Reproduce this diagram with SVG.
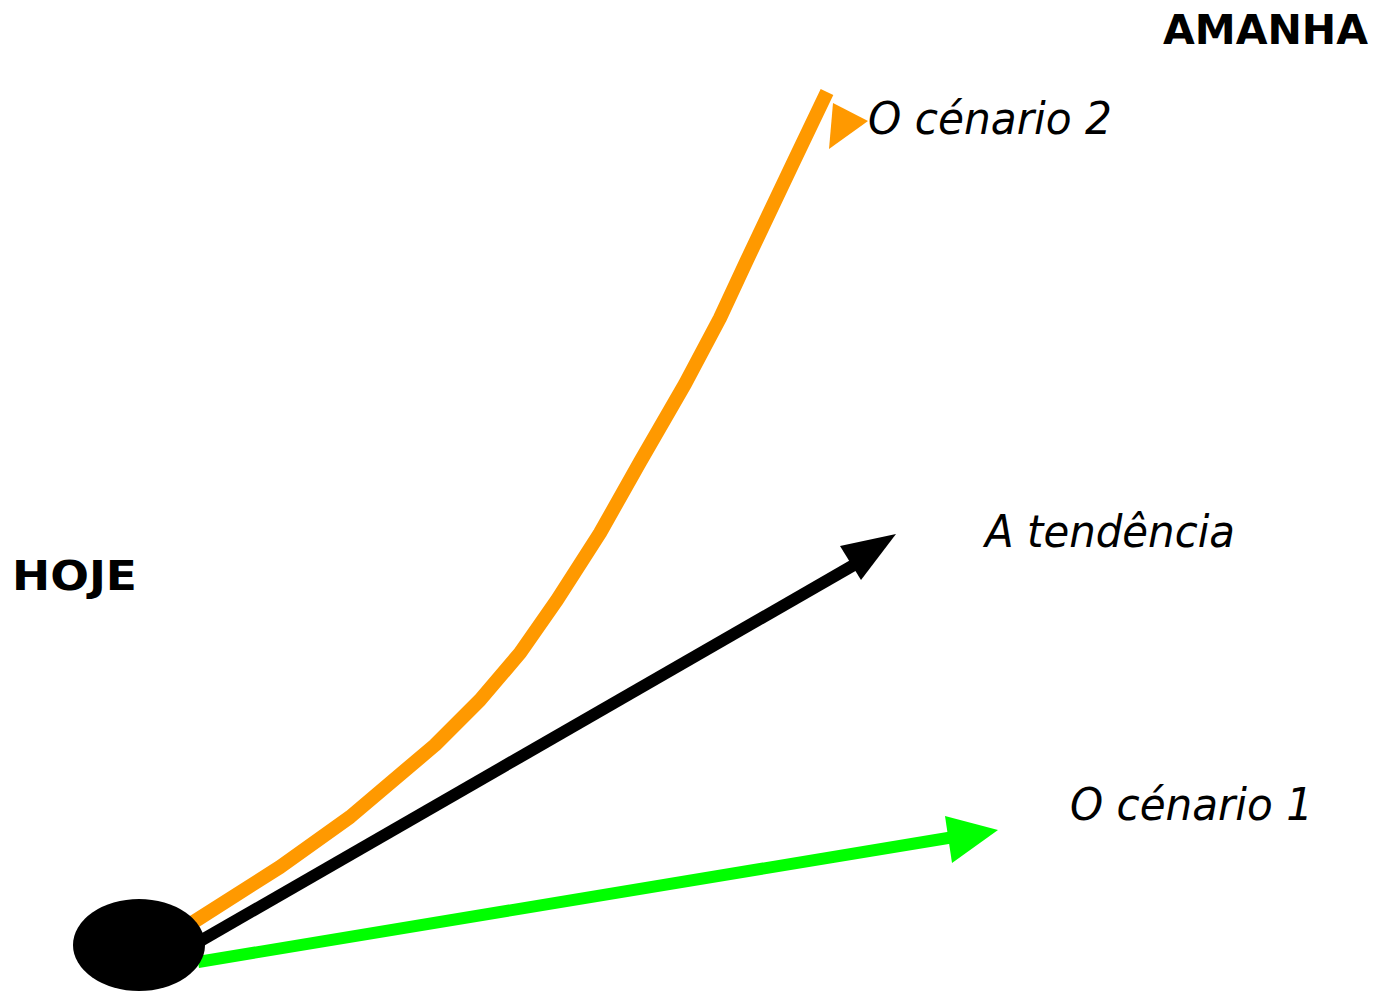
<svg xmlns="http://www.w3.org/2000/svg" width="1376" height="991" viewBox="0 0 1376 991">
<style>
.lbl{font-family:"DejaVu Sans","Liberation Sans",sans-serif;font-style:italic;font-size:44px;fill:#000}
.ttl{font-family:"DejaVu Sans","Liberation Sans",sans-serif;font-weight:bold;font-size:41px;fill:#000}
.ln{fill:none;stroke-linejoin:round}
</style>
<rect width="1376" height="991" fill="#fff"/>
<g id="connectors">
<polyline class="ln" stroke="#FF9900" stroke-width="14" points="192,923 280,867 350,817 435,745 480,700 520,653 557,600 600,533 640,462 685,384 720,318 747,260 794,161 827,92"/>
<polygon fill="#FF9900" points="833,103 868,121 829,149"/>
<line x1="195" y1="944" x2="866" y2="558" stroke="#000" stroke-width="12"/>
<polygon fill="#000" points="840,546 896,534 861,580"/>
<line x1="198" y1="962" x2="960" y2="836" stroke="#00FF00" stroke-width="12"/>
<polygon fill="#00FF00" points="945,816 998,830 952,863"/>
</g>
<g id="origin"><ellipse cx="139" cy="945" rx="66" ry="46" fill="#000"/></g>
<g id="hoje"><text class="ttl" x="12" y="590" textLength="125" lengthAdjust="spacingAndGlyphs">HOJE</text></g>
<g id="amanha"><text class="ttl" x="1163" y="44" textLength="205" lengthAdjust="spacingAndGlyphs">AMANHA</text></g>
<g id="cenario2"><text class="lbl" x="868" y="134" textLength="244" lengthAdjust="spacingAndGlyphs">O cénario 2</text></g>
<g id="tendencia"><text class="lbl" x="985" y="547" textLength="250" lengthAdjust="spacingAndGlyphs">A tendência</text></g>
<g id="cenario1"><text class="lbl" x="1070" y="820" textLength="243" lengthAdjust="spacingAndGlyphs">O cénario 1</text></g>
</svg>
